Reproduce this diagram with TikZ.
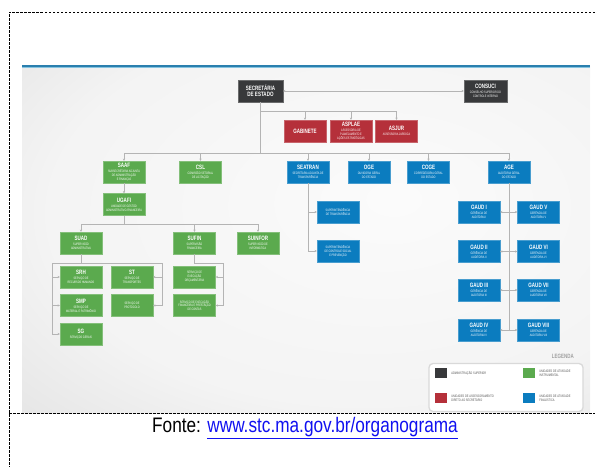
\documentclass[tikz,border=0pt]{standalone}
\usepackage{fontspec}
\setmainfont{Liberation Sans}
\newfontfamily\condfont[FakeStretch=0.72]{Liberation Sans}
\newfontfamily\narrowfont[FakeStretch=0.82]{Liberation Sans}
\usetikzlibrary{arrows.meta}
\definecolor{cdark}{HTML}{38393B}
\definecolor{cred}{HTML}{B5303A}
\definecolor{cgreen}{HTML}{5BAA4E}
\definecolor{cblue}{HTML}{0B7CBF}
\definecolor{linegray}{HTML}{B4B4B4}
\definecolor{stripeblue}{HTML}{2A7FAE}
\definecolor{stripelight}{HTML}{86C4E0}
\definecolor{linkblue}{HTML}{1010F0}
\definecolor{legtext}{HTML}{555555}
\newcommand\OTitle{\condfont\bfseries\fontsize{6.3}{6.9}\selectfont}
\newcommand\OSub{\condfont\fontsize{3.35}{3.95}\selectfont}
\newcommand\TT[1]{{\OTitle #1}}
\pgfdeclareradialshading{panelshade}{\pgfpoint{8bp}{6bp}}{color(0bp)=(gray!3); color(28bp)=(gray!9); color(50bp)=(gray!28); color(75bp)=(gray!46)}
\tikzset{
  box/.style={rectangle, minimum width=42pt, minimum height=22pt, inner sep=0pt,
    text=white, align=center, fill=#1, draw=#1!75!white, line width=0.4pt, font=\OSub},
  conn/.style={draw=linegray, line width=0.7pt},
  arr/.style={conn, -{Stealth[length=2.2pt,width=2.2pt]}},
  darr/.style={conn, {Stealth[length=2.2pt,width=2.2pt]}-{Stealth[length=2.2pt,width=2.2pt]}},
  key/.style={rectangle, minimum width=12pt, minimum height=10pt, inner sep=0pt, fill=#1},
  keytext/.style={anchor=west, align=left, text=legtext, inner sep=0pt,
    font=\condfont\fontsize{3.5}{4.2}\selectfont},
  frame/.style={draw=black, line width=0.8pt, dash pattern=on 2.5pt off 1.5pt}
}
\begin{document}
\begin{tikzpicture}[x=1pt,y=-1pt]
\useasboundingbox (0,0) rectangle (595,467);
% panel
\shade[shading=panelshade] (22,66) rectangle (590,413);
\fill[stripeblue] (22,64.5) rectangle (590,67);
\fill[stripelight] (22,67) rectangle (590,68);
% frame
\draw[frame] (595,12) -- (9,12) -- (9,467);
\draw[frame] (9,413.5) -- (595,413.5);

% top level
\node[box=cdark, minimum width=45pt] (sec) at (260.5,91) {\TT{SECRETÁRIA}\\[0.5pt]\TT{DE ESTADO}};
\node[box=cdark, minimum width=43pt] (consuci) at (485.5,91) {\TT{CONSUCI}\\[0.8pt]CONSELHO SUPERIOR DO\\CONTROLE INTERNO};
% advisory
\node[box=cred] (gab) at (305,131) {\TT{GABINETE}};
\node[box=cred] (asplae) at (351,131) {\TT{ASPLAE}\\[0.6pt]ASSESSORIA DE\\PLANEJAMENTO E\\AÇÕES ESTRATÉGICAS};
\node[box=cred] (asjur) at (396.5,131) {\TT{ASJUR}\\[0.8pt]ASSESSORIA JURÍDICA};
% second level
\node[box=cgreen] (saaf) at (124,172) {\TT{SAAF}\\[0.6pt]SUBSECRETARIA ADJUNTA\\DE ADMINISTRAÇÃO\\E FINANÇAS};
\node[box=cgreen] (csl) at (200.5,172) {\TT{CSL}\\[0.8pt]COMISSÃO SETORIAL\\DE LICITAÇÃO};
\node[box=cblue] (seatran) at (308,172) {\TT{SEATRAN}\\[0.8pt]SECRETARIA ADJUNTA DE\\TRANSPARÊNCIA};
\node[box=cblue] (oge) at (369,172) {\TT{OGE}\\[0.8pt]OUVIDORIA GERAL\\DO ESTADO};
\node[box=cblue] (coge) at (428.5,172) {\TT{COGE}\\[0.8pt]CORREGEDORIA GERAL\\DO ESTADO};
\node[box=cblue] (age) at (509,172) {\TT{AGE}\\[0.8pt]AUDITORIA GERAL\\DO ESTADO};
% admin branch
\node[box=cgreen] (ugafi) at (124,204.5) {\TT{UGAFI}\\[0.8pt]UNIDADE DE GESTÃO\\ADMINISTRATIVO-FINANCEIRA};
\node[box=cgreen] (suad) at (81,243) {\TT{SUAD}\\[0.8pt]SUPERVISÃO\\ADMINISTRATIVA};
\node[box=cgreen] (sufin) at (194.5,243) {\TT{SUFIN}\\[0.8pt]SUPERVISÃO\\FINANCEIRA};
\node[box=cgreen] (suinfor) at (258,243) {\TT{SUINFOR}\\[0.8pt]SUPERVISÃO DE\\INFORMÁTICA};
\node[box=cgreen] (srh) at (81,277) {\TT{SRH}\\[0.8pt]SERVIÇO DE\\RECURSOS HUMANOS};
\node[box=cgreen] (smp) at (81,305.5) {\TT{SMP}\\[0.8pt]SERVIÇO DE\\MATERIAL E PATRIMÔNIO};
\node[box=cgreen] (sg) at (81,334) {\TT{SG}\\[0.8pt]SERVIÇOS GERAIS};
\node[box=cgreen] (st) at (132,277) {\TT{ST}\\[0.8pt]SERVIÇO DE\\TRANSPORTES};
\node[box=cgreen] (sprot) at (132,305.5) {SERVIÇO DE\\PROTOCOLO};
\node[box=cgreen] (sexo) at (194.5,277) {SERVIÇO DE\\EXECUÇÃO\\ORÇAMENTÁRIA};
\node[box=cgreen] (sexf) at (194.5,305.5) {SERVIÇO DE EXECUÇÃO\\FINANCEIRA E PRESTAÇÃO\\DE CONTAS};
% transparency branch
\node[box=cblue] (sup1) at (338,212) {SUPERINTENDÊNCIA\\DE TRANSPARÊNCIA};
\node[box=cblue] (sup2) at (338,251) {SUPERINTENDÊNCIA\\DE CONTROLE SOCIAL\\E PREVENÇÃO};
% audit branch
\node[box=cblue] (gaud1) at (479,212) {\TT{GAUD I}\\[0.8pt]GERÊNCIA DE\\AUDITORIA I};
\node[box=cblue] (gaud2) at (479,251.5) {\TT{GAUD II}\\[0.8pt]GERÊNCIA DE\\AUDITORIA II};
\node[box=cblue] (gaud3) at (479,290) {\TT{GAUD III}\\[0.8pt]GERÊNCIA DE\\AUDITORIA III};
\node[box=cblue] (gaud4) at (479,330) {\TT{GAUD IV}\\[0.8pt]GERÊNCIA DE\\AUDITORIA IV};
\node[box=cblue] (gaud5) at (538.5,212) {\TT{GAUD V}\\[0.8pt]GERÊNCIA DE\\AUDITORIA V};
\node[box=cblue] (gaud6) at (538.5,251.5) {\TT{GAUD VI}\\[0.8pt]GERÊNCIA DE\\AUDITORIA VI};
\node[box=cblue] (gaud7) at (538.5,290) {\TT{GAUD VII}\\[0.8pt]GERÊNCIA DE\\AUDITORIA VII};
\node[box=cblue] (gaud8) at (538.5,330) {\TT{GAUD VIII}\\[0.8pt]GERÊNCIA DE\\AUDITORIA VIII};

% connectors
\coordinate (b1) at (260.5,111);
\coordinate (b2) at (260.5,153);
\draw[darr] (sec.east) -- (consuci.west);
\draw[conn] (sec.south) -- (b2);
\draw[conn] (b1) -- (asjur.north |- b1);
\foreach \n in {gab,asplae,asjur} \draw[arr] (\n.north |- b1) -- (\n.north);
\draw[conn] (saaf.north |- b2) -- (age.north |- b2);
\foreach \n in {saaf,csl,seatran,oge,coge,age} \draw[arr] (\n.north |- b2) -- (\n.north);
\draw[arr] (saaf.south) -- (ugafi.north);
\coordinate (b3) at (124,224);
\draw[conn] (ugafi.south) -- (b3);
\draw[conn] (suad.north |- b3) -- (suinfor.north |- b3);
\foreach \n in {suad,sufin,suinfor} \draw[arr] (\n.north |- b3) -- (\n.north);
% SUAD group
\coordinate (lft) at (52,263);
\coordinate (rgt) at (162,263);
\draw[conn] (suad.south) -- (suad.south |- lft);
\draw[conn] (lft) -- (rgt);
\draw[conn] (lft) -- (lft |- sg.west);
\draw[conn] (rgt) -- (rgt |- sprot.east);
\foreach \n in {srh,smp,sg} \draw[arr] (lft |- \n.west) -- (\n.west);
\foreach \n in {st,sprot} \draw[arr] (rgt |- \n.east) -- (\n.east);
% SUFIN group
\coordinate (fr) at (223,263);
\draw[conn] (sufin.south) -- (sufin.south |- fr) -- (fr) -- (fr |- sexf.east);
\foreach \n in {sexo,sexf} \draw[arr] (fr |- \n.east) -- (\n.east);
% SEATRAN group
\draw[conn] (seatran.south) -- (seatran.south |- sup2.west);
\foreach \n in {sup1,sup2} \draw[arr] (seatran.south |- \n.west) -- (\n.west);
% AGE group
\draw[conn] (age.south) -- (age.south |- gaud4.east);
\draw[darr] (gaud1.east) -- (gaud5.west);
\draw[darr] (gaud2.east) -- (gaud6.west);
\draw[darr] (gaud3.east) -- (gaud7.west);
\draw[darr] (gaud4.east) -- (gaud8.west);

% legend
\node[draw=gray!30, line width=1.3pt, rounded corners=4pt, fill=white, minimum width=154pt, minimum height=48pt, inner sep=0pt] (leg) at (506,387.5) {};
\node[anchor=east, text=gray!75, inner sep=0pt, font=\condfont\bfseries\fontsize{6.2}{6.2}\selectfont] (legt) at (574,356) {LEGENDA};
\node[key=cdark] (k1) at (441,373) {};
\node[keytext] (t1) at ([xshift=4pt]k1.east) {ADMINISTRAÇÃO SUPERIOR};
\node[key=cred] (k2) at (441,398) {};
\node[keytext] (t2) at ([xshift=4pt]k2.east) {UNIDADES DE ASSESSORAMENTO\\DIRETO AO SECRETÁRIO};
\node[key=cgreen] (k3) at (529,373) {};
\node[keytext] (t3) at ([xshift=4pt]k3.east) {UNIDADES DE ATIVIDADE\\INSTRUMENTAL};
\node[key=cblue] (k4) at (529,398) {};
\node[keytext] (t4) at ([xshift=4pt]k4.east) {UNIDADES DE ATIVIDADE\\FINALÍSTICA};

% source
\node[inner sep=0pt, font=\narrowfont\fontsize{21}{24}\selectfont] (fonte) at (305,428) {Fonte: \textcolor{linkblue}{\underline{www.stc.ma.gov.br/organograma}}};
\end{tikzpicture}
\end{document}
